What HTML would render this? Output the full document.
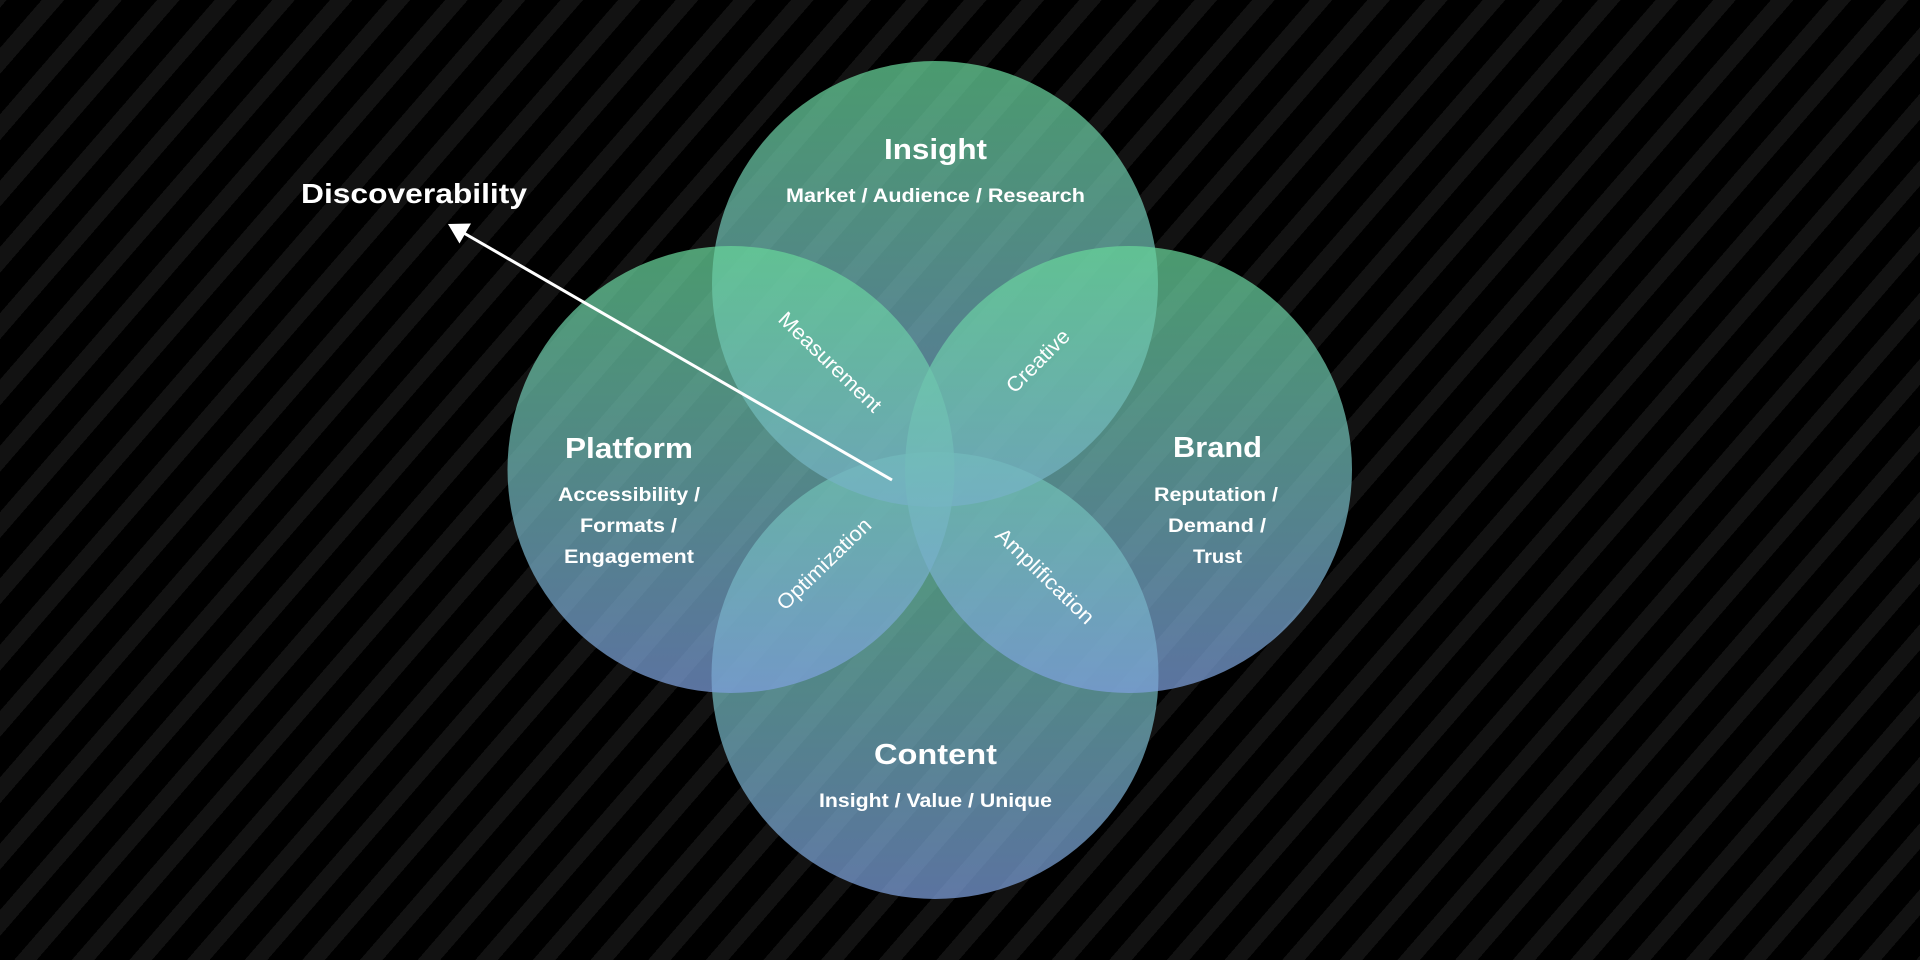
<!DOCTYPE html>
<html>
<head>
<meta charset="utf-8">
<style>
  html, body { margin:0; padding:0; }
  body {
    width:1920px; height:960px; overflow:hidden;
    background:#000;
    background-image: repeating-linear-gradient(131deg, #121212 0 5px, #000 5px 31.5px, #121212 31.5px 43.5px);
  }
  svg { position:absolute; left:0; top:0; }
  .t { font-family:"Liberation Sans", Arial, sans-serif; font-weight:bold; fill:#fff; }
  .l { font-family:"Liberation Sans", Arial, sans-serif; font-weight:normal; fill:#fff; }
</style>
</head>
<body>
<svg width="1920" height="960" viewBox="0 0 1920 960" xmlns="http://www.w3.org/2000/svg">
  <defs>
    <linearGradient id="g" x1="0" y1="0" x2="0" y2="1">
      <stop offset="0" stop-color="#67d699"/>
      <stop offset="0.5" stop-color="#72bbbb"/>
      <stop offset="1" stop-color="#7ea0de"/>
    </linearGradient>
  </defs>

  <circle cx="935" cy="675.5" r="223.5" fill="url(#g)" fill-opacity="0.72"/>
  <circle cx="935" cy="284" r="223" fill="url(#g)" fill-opacity="0.72"/>
  <circle cx="731" cy="469.5" r="223.5" fill="url(#g)" fill-opacity="0.72"/>
  <circle cx="1128.5" cy="469.5" r="223.5" fill="url(#g)" fill-opacity="0.72"/>

  <!-- arrow -->
  <line x1="892" y1="480" x2="462" y2="232" stroke="#fff" stroke-width="3"/>
  <polygon points="448,224 459.5,243.5 471,223.5" fill="#fff"/>

  <text class="t" x="301" y="203" font-size="28" textLength="226" lengthAdjust="spacingAndGlyphs">Discoverability</text>

  <!-- Insight -->
  <text class="t" x="935.5" y="159" font-size="29" text-anchor="middle" textLength="103" lengthAdjust="spacingAndGlyphs">Insight</text>
  <text class="t" x="935.5" y="202" font-size="19.5" text-anchor="middle" textLength="299" lengthAdjust="spacingAndGlyphs">Market / Audience / Research</text>

  <!-- Content -->
  <text class="t" x="935.5" y="764" font-size="29" text-anchor="middle" textLength="123" lengthAdjust="spacingAndGlyphs">Content</text>
  <text class="t" x="935.5" y="807" font-size="19.5" text-anchor="middle" textLength="233" lengthAdjust="spacingAndGlyphs">Insight / Value / Unique</text>

  <!-- Platform -->
  <text class="t" x="629" y="458" font-size="29" text-anchor="middle" textLength="128" lengthAdjust="spacingAndGlyphs">Platform</text>
  <text class="t" x="629" y="501" font-size="19.5" text-anchor="middle" textLength="142" lengthAdjust="spacingAndGlyphs">Accessibility /</text>
  <text class="t" x="628.5" y="532" font-size="19.5" text-anchor="middle" textLength="97" lengthAdjust="spacingAndGlyphs">Formats /</text>
  <text class="t" x="629" y="563" font-size="19.5" text-anchor="middle" textLength="130" lengthAdjust="spacingAndGlyphs">Engagement</text>

  <!-- Brand -->
  <text class="t" x="1217.5" y="457" font-size="29" text-anchor="middle" textLength="89" lengthAdjust="spacingAndGlyphs">Brand</text>
  <text class="t" x="1216" y="501" font-size="19.5" text-anchor="middle" textLength="124" lengthAdjust="spacingAndGlyphs">Reputation /</text>
  <text class="t" x="1217" y="532" font-size="19.5" text-anchor="middle" textLength="98" lengthAdjust="spacingAndGlyphs">Demand /</text>
  <text class="t" x="1217.5" y="563" font-size="19.5" text-anchor="middle" textLength="49" lengthAdjust="spacingAndGlyphs">Trust</text>

  <!-- intersection labels -->
  <g transform="translate(830,362) rotate(44)">
    <text class="l" x="0" y="7" font-size="21" text-anchor="middle" textLength="134" lengthAdjust="spacingAndGlyphs">Measurement</text>
  </g>
  <g transform="translate(1038,361) rotate(-45)">
    <text class="l" x="0" y="7" font-size="21" text-anchor="middle" textLength="80" lengthAdjust="spacingAndGlyphs">Creative</text>
  </g>
  <g transform="translate(824,564) rotate(-44)">
    <text class="l" x="0" y="7" font-size="21" text-anchor="middle" textLength="122" lengthAdjust="spacingAndGlyphs">Optimization</text>
  </g>
  <g transform="translate(1045,576) rotate(44)">
    <text class="l" x="0" y="7" font-size="21" text-anchor="middle" textLength="128" lengthAdjust="spacingAndGlyphs">Amplification</text>
  </g>
</svg>
</body>
</html>
